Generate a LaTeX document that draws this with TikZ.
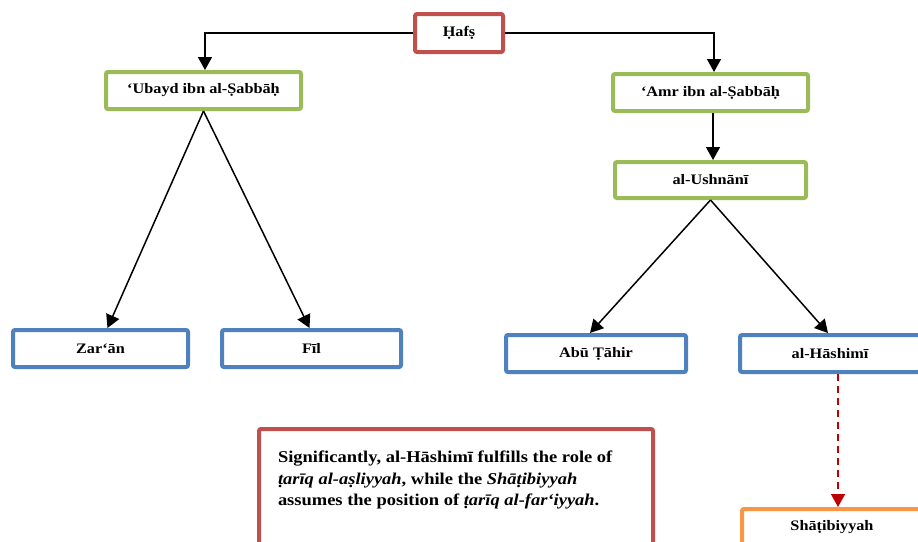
\documentclass[tikz,border=0pt]{standalone}
\usepackage{fontspec}
\setmainfont[FakeStretch=1.12]{Liberation Serif}
\usetikzlibrary{arrows.meta}
\definecolor{boxred}{HTML}{C0504D}
\definecolor{boxgreen}{HTML}{9BBB59}
\definecolor{boxblue}{HTML}{4F81BD}
\definecolor{boxorange}{HTML}{F79646}
\definecolor{arrowred}{HTML}{C00000}
\begin{document}
\begin{tikzpicture}[x=1pt,y=-1pt,
    box/.style={draw,line width=4pt,rounded corners=2pt,fill=white,minimum height=37pt,
      font=\bfseries\fontsize{14.5}{17}\selectfont},
    notebox/.style={draw=boxred,line width=4pt,rounded corners=2pt,fill=white,
      inner xsep=19pt,inner ysep=22pt,font=\bfseries\fontsize{16.5}{21.5}\selectfont},
    link/.style={line width=1.5pt,-{Triangle[width=14pt,length=13pt]}},
    dashlink/.style={arrowred,line width=1.5pt,dash pattern=on 7pt off 5pt,
      -{Triangle[width=14pt,length=13pt]}}]
  \clip (0,0) rectangle (918,541);
  % teacher and his two students
  \node[box,draw=boxred,minimum width=88pt,minimum height=38pt] (hafs) at (459,33) {Ḥafṣ};
  \node[box,draw=boxgreen,minimum width=195pt] (ubayd) at (203.5,90.5) {‘Ubayd ibn al-Ṣabbāḥ};
  \node[box,draw=boxgreen,minimum width=195pt] (amr) at (710.5,92.5) {‘Amr ibn al-Ṣabbāḥ};
  \node[box,draw=boxgreen,minimum width=191pt,minimum height=36pt] (ushnani) at (710.5,180) {al-Ushnānī};
  % bottom row
  \node[box,draw=boxblue,minimum width=175pt] (zaran) at (100.5,348.5) {Zar‘ān};
  \node[box,draw=boxblue,minimum width=179pt] (fil) at (311.5,348.5) {Fīl};
  \node[box,draw=boxblue,minimum width=180pt] (abutahir) at (596,353.5) {Abū Ṭāhir};
  \node[box,draw=boxblue,minimum width=180pt] (hashimi) at (830,353.5) {al-Hāshimī};
  \node[box,draw=boxorange,minimum width=180pt] (shatibi) at (832,527.5) {Shāṭibiyyah};
  \node[notebox,anchor=north west] (note) at (257,427) {\parbox[t][130pt][t]{356pt}{\raggedright
    Significantly, al-Hāshimī fulfills the role of\\
    \textit{ṭarīq al-aṣliyyah}, while the \textit{Shāṭibiyyah}\\
    assumes the position of \textit{ṭarīq al-far‘iyyah}.}};
  % connectors
  \draw[link] (hafs.west) -| ([xshift=1.5pt]ubayd.north);
  \draw[link] (hafs.east) -| ([xshift=3.5pt]amr.north);
  \draw[link] ([xshift=2.5pt]amr.south) -- ([xshift=2.5pt]ushnani.north);
  \draw[link] (ubayd.south) -- ([xshift=7pt]zaran.north);
  \draw[link] (ubayd.south) -- ([xshift=-2pt]fil.north);
  \draw[link] (ushnani.south) -- ([xshift=-6pt]abutahir.north);
  \draw[link] (ushnani.south) -- ([xshift=-2pt]hashimi.north);
  \draw[dashlink] ([xshift=8pt]hashimi.south) -- ([xshift=8pt]hashimi.south |- shatibi.north);
\end{tikzpicture}
\end{document}
